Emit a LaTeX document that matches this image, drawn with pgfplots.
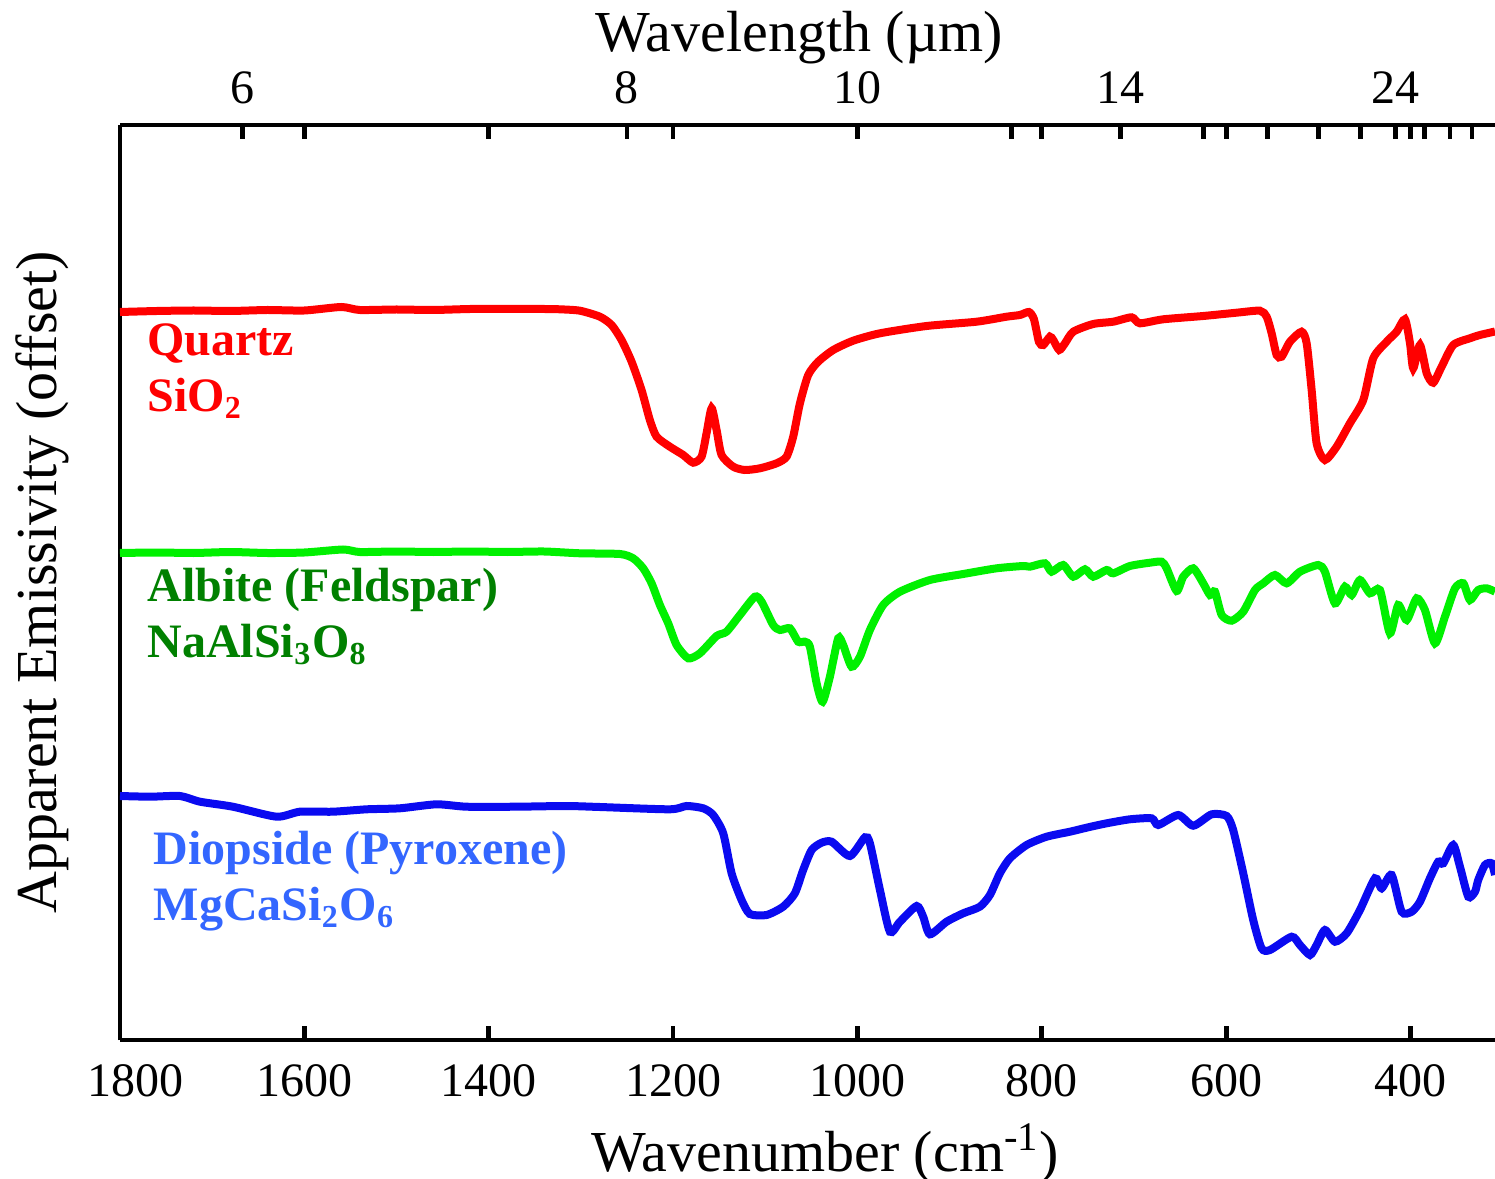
\documentclass[border=0pt]{standalone}
\usepackage{fontspec}
\setmainfont{Liberation Serif}
\usepackage{pgfplots}
\usepackage{pgfplotstable}
\pgfplotsset{compat=1.18}
\usetikzlibrary{calc}

\definecolor{qred}{RGB}{255,0,0}
\definecolor{agreen}{RGB}{0,240,0}
\definecolor{dblue}{RGB}{10,10,240}
\definecolor{agreentxt}{RGB}{0,128,0}
\definecolor{dbluetxt}{RGB}{51,102,255}

% wavenumber (cm^-1), apparent emissivity (offset, arbitrary units)
\pgfplotstableread{
w e
1800 728
1760 729
1720 729.5
1680 729
1640 730
1600 729.5
1560 733
1540 730
1500 730.5
1460 730
1420 731
1380 731
1340 731
1322.8 730.7
1301.1 729.3
1279.4 723.3
1266.7 715
1255.9 700
1245.0 678.3
1234.2 650
1225.2 620
1217.9 603.3
1203.5 593.3
1189.0 585
1178.2 577.3
1169.1 583.3
1163.7 606.7
1158.2 631.7
1152.8 610
1147.4 585
1134.8 573.3
1122.1 570
1105.8 571.7
1087.7 576.7
1076.9 583.3
1069.7 603.3
1062.4 636.7
1053.4 665
1042.6 678.3
1026.3 690
1004.6 699.3
975.6 706.7
925.0 714
870.7 718.3
838.2 723.3
823.8 725
814.0 728
808.6 721
803.1 698
798.5 695
791.2 703.3
787.6 700
781.1 690
774.9 696.7
765.9 708.3
744.2 716
722.5 718.3
702.6 722.7
693.6 716.7
668.3 720.7
624.9 724
588.7 727.3
563.4 729.3
556.1 723.3
550.7 706.7
545.3 685
539.9 683.3
530.8 698.3
518.2 708.3
512.7 696.7
507.3 650
501.9 596.7
492.9 580
480.2 593.3
465.8 616.7
451.3 640
440.5 681.7
425.9 698.3
415.1 708.3
406.1 720.7
400.6 696.7
397.1 671.7
389.8 695
382.5 666.7
375.4 657.3
366.3 673.3
353.7 695
335.6 701.7
324.7 705
308.4 708.5
}\quartz

\pgfplotstableread{
w e
1800 487
1760 487.5
1720 487
1680 488
1640 487
1600 487.5
1558 490.5
1540 488
1500 488.5
1460 488
1420 488.5
1380 488
1340 488.5
1301.1 486.7
1257.7 486
1243.3 481.7
1232.4 471.7
1223.3 456.7
1214.3 435
1205.3 416.7
1196.2 395
1183.6 381.7
1170.9 386.7
1152.8 404
1142.0 408.3
1127.5 425
1111.3 443.3
1104.0 438.3
1091.4 415
1084.1 410
1073.3 411.7
1064.3 398.3
1057.0 398.3
1051.6 393.3
1044.3 356.7
1037.8 338.3
1029.9 363.3
1020.9 401.7
1015.5 395
1006.4 373.3
997.3 383.3
986.5 410
972.1 435
953.9 448.3
921.4 460
885.3 466
849.0 471.7
820.2 474
812.9 473.3
796.6 476.7
789.4 468.3
776.8 475
765.9 463.3
753.2 470.7
744.2 463.3
729.7 470
722.5 466.7
704.4 474
682.7 477.3
670.0 478.3
664.6 471.7
653.7 449
646.6 463.3
635.7 471.7
624.9 456.7
617.6 445
612.2 448.3
604.9 425
594.1 419.3
581.5 428.3
568.8 450
559.8 456.7
547.1 465
534.4 456.7
520.0 468.3
500.1 475
492.9 468.3
482.0 436.7
471.2 453.3
463.9 445
454.9 460
444.1 446.7
433.2 450
422.4 406.7
413.4 435
404.2 420
393.4 441.7
384.4 430
373.5 396.7
362.7 423.3
351.8 451.7
342.8 456.7
335.6 440
326.6 450
317.4 451.7
308.4 448.3
}\albite

\pgfplotstableread{
w e
1800 244
1767.3 243.3
1734.9 244
1713.2 238.3
1677.6 233.3
1630.2 223.3
1604.9 228.3
1569.1 228.3
1532.5 230.7
1496.4 231.7
1456.6 235.7
1424.0 233.3
1369.8 233.3
1315.6 234
1279.4 233
1203.5 230.7
1185.4 234
1167.3 231.7
1156.5 225
1145.6 206.7
1136.5 166.7
1125.7 140
1116.7 126
1098.6 125
1080.6 133.3
1067.9 146.7
1058.9 170
1049.7 190
1038.9 197.3
1028.0 198.3
1008.2 184
991.9 202.7
986.5 196.7
975.6 150
964.8 108.3
953.9 118.3
935.8 134
928.7 123.3
921.4 105.7
903.3 118.3
885.3 126.7
867.2 133.3
856.3 145
845.5 166.7
834.6 181.7
816.5 195
794.8 203.3
769.5 208.3
749.7 212.7
729.7 216.7
704.4 220.7
680.9 221.7
673.7 215
652.0 225
635.7 214.3
615.8 225.7
599.5 224
592.4 210
581.5 166.7
570.7 120
561.6 91.7
552.5 90
529.0 103.3
520.0 95
509.1 85
501.9 95
492.9 110
482.0 98.3
469.3 106.7
454.9 130
438.6 161.7
431.4 151.7
420.5 165
409.7 128.3
398.8 128.3
389.8 138.3
379.0 161.7
370.0 178.3
364.5 176.7
353.7 195
346.4 173.3
337.4 143.3
330.1 148.3
326.6 160
319.3 175
312.0 176.7
308.4 165
}\diopside

\pgfplotsset{
  specaxis/.style={
    scale only axis,
    width=343.75pt, height=228.75pt,
    xmin=308.4, xmax=1800, x dir=reverse,
    ymin=0, ymax=915,
    tick align=inside,
    major tick length=3.5pt,
    every tick/.style={black, line width=1.2pt},
    tick label style={font=\fontsize{12}{14}\selectfont},
  },
  spec/.style={line width=2pt, smooth, tension=0.4},
}

\begin{document}
\begin{tikzpicture}
\begin{axis}[specaxis, name=ax,
    axis x line=box, axis y line=left,
    axis line style={-, line width=1.1pt},
    xtick pos=both, xticklabel pos=left,
    xtick={400,600,800,1000,1200,1400,1600,1800},
    xticklabels={400,600,800,1000,1200,1400,1600,\makebox[0pt][l]{\hspace{-8pt}1800}},
    xticklabel shift=2.5pt,
    ytick=\empty,
    xlabel={Wavenumber (cm\textsuperscript{-1})},
    ylabel={Apparent Emissivity (offset)},
    xlabel style={font=\fontsize{14.5}{17}\selectfont, xshift=4.5pt},
    ylabel style={font=\fontsize{14.5}{17}\selectfont},
    ylabel shift=7.5pt,
]
\addplot[spec, qred] table[x=w, y=e] {\quartz};
\addplot[spec, agreen] table[x=w, y=e] {\albite};
\addplot[spec, dblue] table[x=w, y=e] {\diopside};

\node[anchor=base west, inner sep=0, font=\fontsize{12}{14}\selectfont\bfseries, text=qred]
  at (axis cs:1770.9,684) {Quartz};
\node[anchor=base west, inner sep=0, font=\fontsize{12}{14}\selectfont\bfseries, text=qred]
  at (axis cs:1770.9,628.5) {SiO\textsubscript{2}};
\node[anchor=base west, inner sep=0, font=\fontsize{12}{14}\selectfont\bfseries, text=agreentxt]
  at (axis cs:1770.9,439) {Albite (Feldspar)};
\node[anchor=base west, inner sep=0, font=\fontsize{12}{14}\selectfont\bfseries, text=agreentxt]
  at (axis cs:1770.9,383) {NaAlSi\textsubscript{3}O\textsubscript{8}};
\node[anchor=base west, inner sep=0, font=\fontsize{12}{14}\selectfont\bfseries, text=dbluetxt]
  at (axis cs:1764.2,176) {Diopside (Pyroxene)};
\node[anchor=base west, inner sep=0, font=\fontsize{12}{14}\selectfont\bfseries, text=dbluetxt]
  at (axis cs:1764.2,120) {MgCaSi\textsubscript{2}O\textsubscript{6}};
\end{axis}

% wavelength scale on top: tick at 10000/lambda
\begin{axis}[specaxis,
    axis x line*=top, axis y line=none,
    axis line style={-, line width=1.1pt},
    xtick pos=right, xticklabel pos=right,
    xtick={1666.67,1250,1000,833.33,714.29,625,555.56,500,454.55,416.67,384.62,357.14,333.33},
    xticklabels={6,8,10,,14,,,,,24,,,},
    xticklabel shift=1.75pt,
    ytick=\empty,
    xlabel={Wavelength (µm)},
    xlabel style={font=\fontsize{14.5}{17}\selectfont, xshift=-2pt},
    xlabel shift=-5pt,
]
\end{axis}

\pgfresetboundingbox
\useasboundingbox ($(ax.south west)+(-30pt,-34.5pt)$) rectangle ($(ax.north east)+(0pt,31.25pt)$);
\end{tikzpicture}
\end{document}
